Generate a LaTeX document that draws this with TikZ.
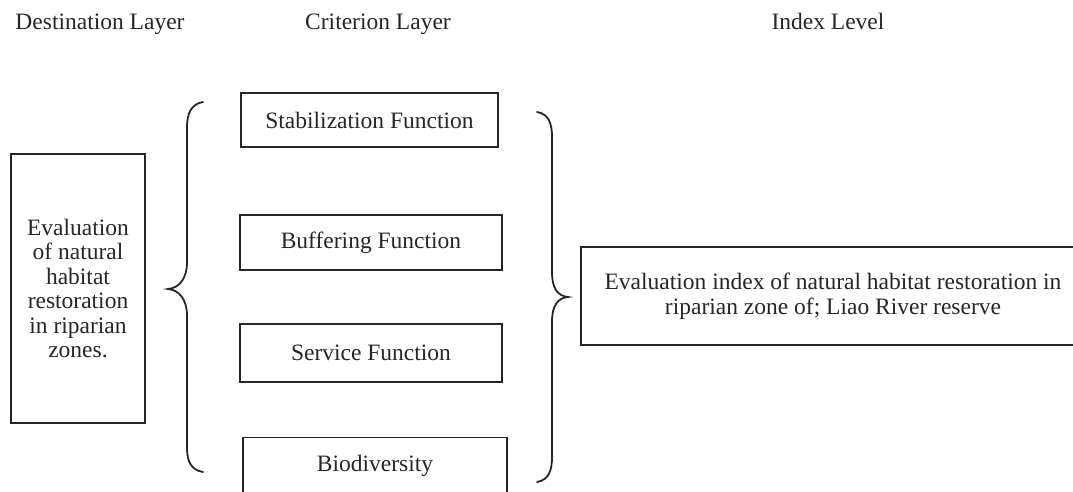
\documentclass[tikz,border=0pt]{standalone}
\usepackage{fontspec}
\setmainfont{Liberation Serif}
\begin{document}
\begin{tikzpicture}[x=1pt,y=-1pt,
  every node/.style={font=\fontsize{23.5}{24.5}\selectfont, text=black!85},
  header/.style={anchor=base, inner sep=0pt},
  critbox/.style={draw=black!85, line width=1.6pt, inner sep=0pt, align=center},
  bracepath/.style={draw=black!85, line width=1.8pt, line cap=round}]
\useasboundingbox (0,0) rectangle (1073,491);
\clip (0,0) rectangle (1073,491);
% headers
\node[header] (h1) at (100,29) {Destination Layer};
\node[header] (h2) at (378,29) {Criterion Layer};
\node[header] (h3) at (828,29) {Index Level};
% destination box
\node[critbox, minimum width=134, minimum height=269] (dest) at (78,288.5)
  {Evaluation\\of natural\\habitat\\restoration\\in riparian\\zones.};
% criterion boxes
\node[critbox, minimum width=257, minimum height=54] (stab) at (369.5,120) {Stabilization Function};
\node[critbox, minimum width=262, minimum height=55] (buff) at (371,242.5) {Buffering Function};
\node[critbox, minimum width=262, minimum height=58] (serv) at (371,353) {Service Function};
\node[critbox, minimum width=264, minimum height=56] (bio) at (375,465.5) {Biodiversity};
% index box
\node[critbox, minimum width=504, minimum height=98] (idx) at (833,296)
  {Evaluation index of natural habitat restoration in\\riparian zone of; Liao River reserve};
% left brace
\draw[bracepath] (203,102) .. controls (191,104) and (187,114) .. (187,127)
  -- (187,262) .. controls (187,279) and (179,288) .. (168,289)
  .. controls (179,290) and (187,299) .. (187,316)
  -- (187,448) .. controls (187,461) and (191,470) .. (203,472);
% right brace
\draw[bracepath] (537,112) .. controls (549,114) and (552,124) .. (552,137)
  -- (552,272) .. controls (552,289) and (558,296) .. (568,297)
  .. controls (558,298) and (552,305) .. (552,322)
  -- (552,457) .. controls (552,470) and (549,480) .. (537,482);
\end{tikzpicture}
\end{document}
